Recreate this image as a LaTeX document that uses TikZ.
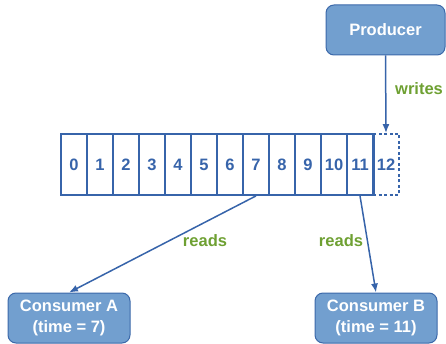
\documentclass[tikz,border=0pt]{standalone}
\usepackage{fontspec}
\setmainfont{Liberation Sans}
\usetikzlibrary{arrows.meta}
\definecolor{boxfill}{RGB}{114,159,207}
\definecolor{boxdraw}{RGB}{60,105,170}
\definecolor{cellblue}{RGB}{55,100,170}
\definecolor{lblgreen}{RGB}{110,160,50}
\tikzset{
  x=1pt, y=-1pt,
  every node/.style={font=\fontsize{16.5}{21}\selectfont\bfseries},
  actor/.style={draw=boxdraw, line width=1pt, fill=boxfill, rounded corners=8pt, text=white, align=center, inner sep=0pt},
  cell/.style={draw=cellblue, line width=1.8pt, minimum width=26pt, minimum height=61pt, inner sep=0pt, text=cellblue},
  newcell/.style={cell, dash pattern=on 3pt off 2.5pt},
  arr/.style={draw=cellblue, line width=1.5pt, -{Latex[length=9pt,width=7pt]}},
  lbl/.style={text=lblgreen}
}
\begin{document}
\begin{tikzpicture}
\useasboundingbox (0,0) rectangle (446,344);
\node[actor, minimum width=119pt, minimum height=50pt] (prod) at (385.5,30) {Producer};
\node[actor, minimum width=122pt, minimum height=50pt] (ca) at (69,318) {Consumer A\\(time = 7)};
\node[actor, minimum width=122pt, minimum height=50pt] (cb) at (376,318) {Consumer B\\(time = 11)};
\foreach \i in {0,...,11} {
  \node[cell] (c\i) at ({74+26*\i},164.5) {\i};
}
\node[newcell] (c12) at (386,164.5) {12};
\draw[draw=cellblue, line width=1.8pt] (c11.north east) -- (c11.south east);
\draw[arr] (prod.south) -- (c12.north);
\draw[arr] (c7.south) -- (ca.north);
\draw[arr] (c11.south) -- (cb.north);
\node[lbl] (w) at (419,89) {writes};
\node[lbl] (r1) at (205,241) {reads};
\node[lbl] (r2) at (341,241) {reads};
\end{tikzpicture}
\end{document}
